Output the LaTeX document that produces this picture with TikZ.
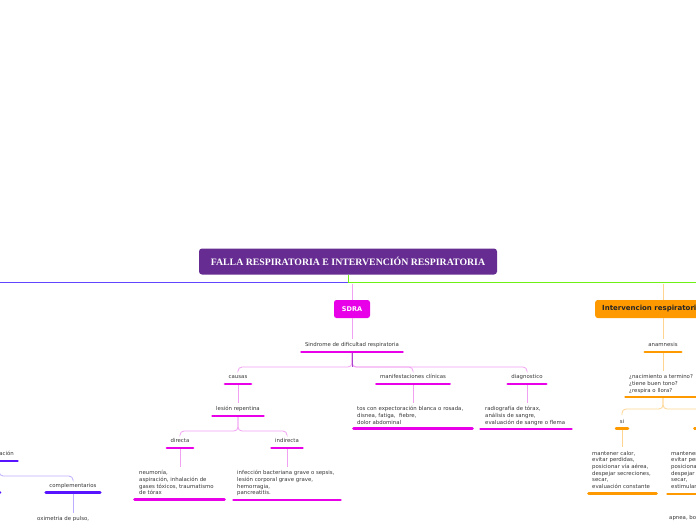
\documentclass[tikz,border=0pt]{standalone}
\usepackage{fontspec}
\setmainfont{DejaVu Sans}
\newfontfamily\titlefont{Liberation Serif}
\usetikzlibrary{calc}
\definecolor{titlepurple}{RGB}{102,44,145}
\definecolor{mainblue}{RGB}{95,70,255}
\definecolor{maingreen}{RGB}{110,240,20}
\definecolor{mag}{RGB}{232,0,232}
\definecolor{pinkc}{RGB}{242,160,242}
\definecolor{stemp}{RGB}{165,70,205}
\definecolor{orng}{RGB}{255,153,0}
\definecolor{orngc}{RGB}{255,212,145}
\definecolor{bluebar}{RGB}{88,20,255}
\definecolor{bluec}{RGB}{190,172,255}
\definecolor{txt}{RGB}{55,55,55}
\newcommand\mmlab[5]{%
  \node[lab,anchor=#2] (#1) at (#3) {#5};
  \draw[bar,#4] ([xshift=-3.5pt,yshift=-5.5pt]#1.base west) -- ([xshift=3.5pt,yshift=-5.5pt]#1.base east);
  \coordinate (#1-bar) at ([yshift=-6.5pt]#1.base);
}
\begin{document}
\begin{tikzpicture}[x=1pt,y=-1pt,
  lab/.style={inner xsep=0pt,inner ysep=0.8pt,text height=4pt,text depth=1pt,font=\fontsize{5.4}{6.7}\selectfont,text=txt},
  blk/.style={inner sep=0pt,align=left,anchor=north west,font=\fontsize{5.4}{6.7}\selectfont,text=txt},
  bar/.style={line width=2.8pt,line cap=round},
  conn/.style={line width=0.8pt,rounded corners=4pt},
  tolab/.style={shorten >=3pt},
  toblk/.style={shorten >=3.5pt}]
\useasboundingbox (0,0) rectangle (696,520);
\clip (0,0) rectangle (696,520);

% title and main lines
\node[fill=titlepurple,rounded corners=3pt,minimum width=298pt,minimum height=26pt,inner sep=0pt,text=white,
  font=\titlefont\bfseries\fontsize{9.8}{10}\selectfont] (title) at (348,261.5) {FALLA RESPIRATORIA E INTERVENCIÓN RESPIRATORIA};
\coordinate (hub) at (348.5,282.5);
\coordinate (leftend) at (-5,282.5);
\coordinate (rightend) at (705,282.5);
\draw[line width=1.2pt,mainblue] (leftend) -- (hub);
\draw[line width=1.2pt,maingreen] (title.south -| hub) -- (hub) -- (rightend);

% SDRA branch
\node[fill=mag,rounded corners=2.5pt,minimum width=36pt,minimum height=18pt,inner sep=0pt,text=white,
  font=\bfseries\fontsize{6.5}{7}\selectfont] (sdra) at (352,309) {SDRA};
\coordinate (sdraIn) at (352,283.5);
\draw[conn,pinkc] (sdraIn) -- (sdra.north);

\mmlab{sind}{base}{352,346.5}{mag}{Sindrome de dificultad respiratoria}
\draw[conn,pinkc,tolab] (sdra.south) -- (sind.north);

\mmlab{causas}{base}{238,378.5}{mag}{causas}
\mmlab{manif}{base}{413,378.5}{mag}{manifestaciones clínicas}
\mmlab{diag}{base}{527,378.5}{mag}{diagnostico}
\draw[conn,pinkc,tolab] (sind-bar) -- ++(0,14) -| (causas.north);
\draw[conn,pinkc,tolab] (sind-bar) -- ++(0,14) -| (manif.north);
\draw[conn,pinkc,tolab] (sind-bar) -- ++(0,14) -| (diag.north);
\draw[line width=0.8pt,stemp] (sind-bar) -- ++(0,13.6);

\node[blk] (mtext) at (357,406.3) {tos con expectoración blanca o rosada,\\disnea, fatiga, \ fiebre,\\dolor abdominal};
\draw[bar,mag] (353.5,428.7) -- (472.5,428.7);
\draw[conn,pinkc,toblk] (manif-bar) -- (manif-bar |- mtext.north);

\node[blk] (dtext) at (485,406.3) {radiografía de tórax,\\análisis de sangre,\\evaluación de sangre o flema};
\draw[bar,mag] (480.5,429) -- (571.5,429);
\draw[conn,pinkc,toblk] (diag-bar) -- (diag-bar |- dtext.north);

\mmlab{lesion}{base}{238,410.5}{mag}{lesión repentina}
\draw[conn,pinkc,tolab] (causas-bar) -- (lesion.north);

\mmlab{directa}{base}{180,442.5}{mag}{directa}
\mmlab{indirecta}{base}{287,442.5}{mag}{indirecta}
\draw[conn,pinkc,tolab] (lesion-bar) -- ++(0,14) -| (directa.north);
\draw[conn,pinkc,tolab] (lesion-bar) -- ++(0,14) -| (indirecta.north);

\node[blk] (dirtext) at (139,470.1) {neumonía,\\aspiración, inhalación de\\gases tóxicos, traumatismo\\de tórax};
\draw[bar,mag] (134.5,499.7) -- (224.5,499.7);
\draw[conn,pinkc,toblk] (directa-bar) -- (directa-bar |- dirtext.north);

\node[blk] (indtext) at (237,470.1) {infección bacteriana grave o sepsis,\\lesión corporal grave grave,\\hemorragia,\\pancreatitis.};
\draw[bar,mag] (233.5,500) -- (340.5,500);
\draw[conn,pinkc,toblk] (indirecta-bar) -- (indirecta-bar |- indtext.north);

% left (blue) branch
\mmlab{eval}{base east}{14,455.5}{bluebar}{evaluación}
\mmlab{compl}{base}{73,487.2}{bluebar}{complementarios}
\mmlab{basic}{base east}{-3.5,487.2}{bluebar}{básicos}
\draw[conn,bluec,tolab] (eval-bar) -- ++(0,14) -| (compl.north);
\draw[conn,bluec,tolab] (eval-bar) -- ++(0,14) -| (basic.north);
\node[blk] (oxi) at (37,516.4) {oximetria de pulso,\\};
\draw[conn,bluec,toblk] (compl-bar) -- (compl-bar |- oxi.north);

% right (orange) branch
\node[fill=orng,rounded corners=2.5pt,minimum height=18pt,inner xsep=7pt,inner ysep=0pt,anchor=west,
  font=\bfseries\fontsize{7}{8}\selectfont,text=black!85] (ibox) at (595,309) {Intervencion respiratoria};
\coordinate (ibIn) at (663,283.5);
\draw[conn,orngc] (ibIn) -- (ibIn |- ibox.north);

\mmlab{anam}{base}{663,346.5}{orng}{anamnesis}
\draw[conn,orngc,tolab] (anam |- ibox.south) -- (anam.north);

\node[blk] (qtext) at (629,374.4) {¿nacimiento a termino?\\¿tiene buen tono?\\¿respira o llora?};
\draw[bar,orng] (625.5,397) -- (740,397);
\draw[conn,orngc,toblk] (anam-bar) -- (anam-bar |- qtext.north);
\coordinate (qbar) at (663,398);

\mmlab{si}{base}{622,423.2}{orng}{si}
\mmlab{no}{base}{701.5,423.2}{orng}{no}
\draw[conn,orngc,tolab] (qbar) -- ++(0,11) -| (si.north);
\draw[conn,orngc,tolab] (qbar) -- ++(0,11) -| (no.north);

\node[blk] (sitext) at (592,450.7) {mantener calor,\\evitar perdidas,\\posicionar vía aérea,\\despejar secreciones,\\secar,\\evaluación constante};
\draw[bar,orng] (588.5,493.7) -- (656.5,493.7);
\draw[conn,orngc,toblk] (si-bar) -- (si-bar |- sitext.north);

\node[blk] (notext) at (671,450.7) {mantener calor,\\evitar perdidas,\\posicionar vía aérea,\\despejar secreciones,\\secar,\\estimular};
\draw[bar,orng] (667.5,494) -- (760,494);
\draw[conn,orngc,toblk] (no-bar) -- (no-bar |- notext.north);

\node[blk] (apnea) at (669,515.4) {apnea, boqueo};
\coordinate (nobar) at (714,495.5);
\draw[conn,orngc,toblk] (nobar) -- (nobar |- apnea.north);
\end{tikzpicture}
\end{document}
